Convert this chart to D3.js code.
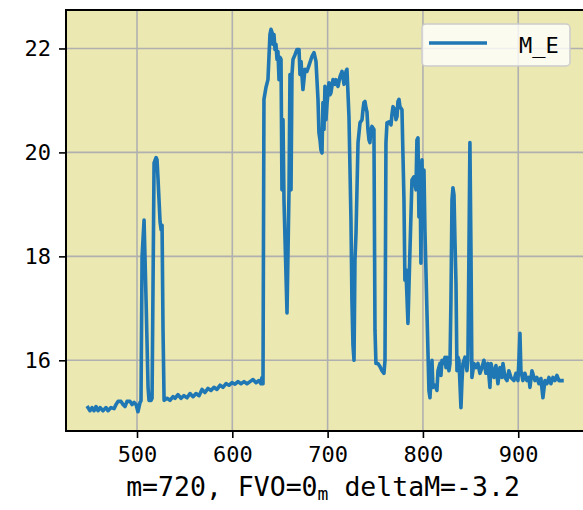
<!DOCTYPE html>
<html>
<head>
<meta charset="utf-8">
<script src="https://cdn.jsdelivr.net/npm/d3@7"></script>
<style>
  html, body { margin: 0; padding: 0; background: #ffffff; }
  svg { display: block; }
  text { font-family: "DejaVu Sans Mono", "Noto Sans CJK SC", monospace; fill: #000; }
</style>
</head>
<body>
<svg id="chart" width="583" height="510"></svg>
<script>
// ---- data ----
const seriesName = "M_E";
const xValues = [
  448.6, 450.7, 452.8, 454.9, 457.0, 459.1, 461.2, 464.3, 467.5, 469.6, 472.7, 475.9, 478.0, 480.1, 483.2, 485.3,
  487.4, 489.5, 492.7, 494.8, 496.9, 499.0, 501.0, 503.2, 504.2,
  505.3, 507.4, 509.5, 511.6, 512.6, 514.7, 515.8, 517.9, 520.0, 521.0, 522.1, 524.2, 525.3, 526.3, 527.3, 528.4,
  531.5, 534.6, 537.8, 539.9, 543.0, 546.2, 549.3, 552.5, 555.6, 558.8, 561.9, 565.1, 568.2, 571.3, 574.5, 577.6,
  580.8, 583.9, 587.1, 590.2, 593.4, 596.5, 599.7, 602.8, 606.0, 609.1, 612.3, 615.4, 618.6, 621.7, 624.9, 628.0,
  630.1, 631.1, 632.2,
  633.2, 635.3, 637.4, 639.5, 640.6, 641.6, 642.7, 643.7, 644.8, 645.8, 646.9, 647.9, 649.0, 650.0, 651.1, 652.1,
  653.2, 654.2, 657.4, 659.5, 660.5, 661.6, 662.6, 663.7, 665.8, 667.9, 670.0, 671.0, 672.1, 674.1, 675.2, 676.2,
  678.3, 680.4, 683.6, 685.7, 687.8, 688.8, 689.9, 690.9, 692.0, 693.0, 694.1, 695.1, 696.2, 697.2, 698.3, 699.3,
  701.4, 702.5, 703.5, 705.6, 707.7, 708.8, 710.9, 713.0, 715.1, 717.2, 719.3, 720.3, 722.4, 724.5, 725.5, 726.6,
  727.7, 728.7, 729.8, 731.9, 734.0, 736.1, 737.1, 738.1, 739.2, 740.2, 741.3, 742.3, 743.4, 744.4, 745.5, 746.5,
  748.6, 749.7, 750.7, 752.8, 754.9, 757.0, 759.1, 760.2, 761.2, 762.3, 764.4, 766.5, 767.5, 768.6, 770.7, 771.7,
  772.8, 773.8, 774.9, 775.9, 778.0, 780.1, 781.1, 782.2, 784.3, 786.4, 788.5, 790.6, 792.7, 793.7, 794.8, 795.8,
  796.9, 797.9, 799.0, 800.0, 801.1, 802.1, 804.2, 806.3, 807.4, 809.5, 810.5, 812.6, 814.7, 815.8, 817.9, 818.9,
  820.0, 822.1, 823.1, 824.2, 825.2, 827.3, 828.4, 829.4, 830.5, 831.5, 832.6, 833.6, 834.7, 835.7, 836.8, 837.8,
  839.9, 841.0, 842.0, 844.1, 846.2, 847.2, 848.3, 849.3, 850.4, 851.4, 853.5, 855.6, 857.7, 859.8, 861.9, 864.0,
  866.1, 868.2, 870.3, 871.4, 874.5, 876.6, 878.7, 880.8, 882.9, 884.0, 886.1, 888.2, 890.2, 892.3, 895.5, 897.6,
  899.7, 900.7, 901.8, 902.8, 904.9, 907.0, 909.1, 911.2, 912.3, 914.4, 917.5, 919.6, 921.7, 923.8, 925.9, 928.0,
  930.1, 932.2, 934.3, 936.4, 938.5, 940.6, 942.7, 945.9
];
const yValues = [
  15.09, 15.03, 15.09, 15.03, 15.11, 15.03, 15.09, 15.03, 15.09, 15.03, 15.09, 15.07, 15.15, 15.21, 15.21, 15.15,
  15.11, 15.21, 15.21, 15.15, 15.19, 15.15, 15.01, 15.19, 15.22,
  17.99, 18.70, 17.16, 15.48, 15.23, 15.23, 15.27, 19.80, 19.90, 19.86, 19.47, 18.66, 18.51, 18.60, 16.58, 15.23,
  15.27, 15.23, 15.30, 15.27, 15.34, 15.27, 15.32, 15.28, 15.36, 15.30, 15.36, 15.32, 15.44, 15.38, 15.46, 15.42,
  15.48, 15.44, 15.52, 15.48, 15.55, 15.52, 15.57, 15.54, 15.59, 15.55, 15.59, 15.55, 15.59, 15.63, 15.57, 15.61,
  15.55, 15.67, 15.55,
  21.02, 21.25, 21.40, 22.27, 22.37, 22.31, 22.08, 22.27, 21.98, 22.08, 21.79, 21.94, 21.40, 21.83, 21.79, 19.28,
  20.63, 19.09, 16.91, 19.28, 21.50, 19.28, 21.50, 21.79, 21.88, 21.98, 21.98, 21.50, 21.75, 21.21, 21.40, 21.60,
  21.56, 21.67, 21.85, 21.92, 21.75, 21.40, 21.02, 20.38, 20.24, 20.05, 19.99, 20.96, 20.44, 21.27, 20.63, 20.92,
  21.34, 21.11, 21.15, 21.40, 21.31, 21.40, 21.27, 21.46, 21.56, 21.31, 21.56, 21.60, 20.69, 18.70, 17.16, 16.29,
  16.00, 17.93, 18.45, 20.19, 20.57, 20.63, 20.82, 20.96, 20.98, 20.86, 20.78, 20.44, 20.24, 20.19, 20.44, 20.50,
  20.44, 16.58, 15.94, 15.94, 15.88, 15.80, 15.75, 16.00, 20.19, 20.57, 20.59, 20.53, 20.73, 20.88, 20.82, 20.63,
  20.69, 20.98, 21.02, 20.88, 20.82, 19.09, 17.54, 17.74, 16.71, 18.12, 19.47, 19.53, 19.28, 20.24, 20.28, 18.76,
  19.80, 17.87, 19.86, 18.83, 19.66, 18.51, 16.96, 15.42, 15.28, 16.00, 15.48, 15.52, 15.42, 15.80, 15.94, 15.71,
  16.00, 15.94, 16.06, 15.86, 16.06, 15.80, 15.94, 17.16, 19.09, 19.32, 19.18, 18.31, 17.48, 15.80, 16.06, 16.00,
  15.09, 15.61, 15.94, 16.06, 15.80, 16.00, 18.12, 20.19, 18.12, 15.67, 15.94, 15.86, 15.94, 15.75, 15.86, 16.00,
  15.75, 15.94, 15.48, 15.94, 15.67, 15.90, 15.55, 15.86, 15.67, 15.94, 15.67, 15.61, 15.80, 15.67, 15.61, 15.75,
  15.61, 16.00, 16.52, 15.80, 15.61, 15.75, 15.61, 15.67, 15.48, 15.80, 15.61, 15.67, 15.55, 15.65, 15.28, 15.61,
  15.55, 15.67, 15.55, 15.67, 15.61, 15.71, 15.61, 15.61
];
const xTicks = [500, 600, 700, 800, 900];
const yTicks = [16, 18, 20, 22];
const xDomain = [425.5, 975.3];
const yDomain = [14.64, 22.74];
const xLabelMain1 = "m=720, FVO=0";
const xLabelSub = "m";
const xLabelMain2 = " deltaM=-3.2";

// ---- layout ----
const svg = d3.select("#chart");
const pLeft = 66, pTop = 10, pRight = 590, pBottom = 431;

const x = d3.scaleLinear().domain(xDomain).range([pLeft, pRight]);
const y = d3.scaleLinear().domain(yDomain).range([pBottom, pTop]);

// plot background
svg.append("rect")
  .attr("x", pLeft).attr("y", pTop)
  .attr("width", pRight - pLeft).attr("height", pBottom - pTop)
  .attr("fill", "#ece8b1");

// grid
const grid = svg.append("g");
grid.selectAll(".gx").data(xTicks).join("line")
  .attr("x1", d => x(d)).attr("x2", d => x(d))
  .attr("y1", pTop).attr("y2", pBottom)
  .attr("stroke", "#b0b0b0").attr("stroke-width", 1.6);
grid.selectAll(".gy").data(yTicks).join("line")
  .attr("x1", pLeft).attr("x2", pRight)
  .attr("y1", d => y(d)).attr("y2", d => y(d))
  .attr("stroke", "#b0b0b0").attr("stroke-width", 1.6);

// data line
const pts = xValues.map((v, i) => [v, yValues[i]]);
const line = d3.line().x(d => x(d[0])).y(d => y(d[1]));
svg.append("path")
  .datum(pts)
  .attr("d", line)
  .attr("fill", "none")
  .attr("stroke", "#1f77b4")
  .attr("stroke-width", 3.6)
  .attr("stroke-linejoin", "round")
  .attr("stroke-linecap", "square");

// axes
const xAxis = d3.axisBottom(x).tickValues(xTicks).tickSize(7).tickPadding(8);
const gx = svg.append("g").attr("transform", `translate(0,${pBottom})`).call(xAxis);
gx.select(".domain").remove();
gx.selectAll("line").attr("stroke", "#000").attr("stroke-width", 1.6);
gx.selectAll("text").attr("font-size", 22).attr("font-family", "DejaVu Sans Mono");

const yAxis = d3.axisLeft(y).tickValues(yTicks).tickSize(7).tickPadding(8);
const gy = svg.append("g").attr("transform", `translate(${pLeft},0)`).call(yAxis);
gy.select(".domain").remove();
gy.selectAll("line").attr("stroke", "#000").attr("stroke-width", 1.6);
gy.selectAll("text").attr("font-size", 22).attr("font-family", "DejaVu Sans Mono");

// spines
svg.append("line").attr("x1", pLeft).attr("x2", pLeft).attr("y1", pTop - 1).attr("y2", pBottom + 1)
  .attr("stroke", "#000").attr("stroke-width", 2);
svg.append("line").attr("x1", pLeft).attr("x2", pRight).attr("y1", pTop).attr("y2", pTop)
  .attr("stroke", "#000").attr("stroke-width", 2);
svg.append("line").attr("x1", pLeft).attr("x2", pRight).attr("y1", pBottom).attr("y2", pBottom)
  .attr("stroke", "#000").attr("stroke-width", 2);

// x label
const xl = svg.append("text")
  .attr("x", 323).attr("y", 496)
  .attr("text-anchor", "middle")
  .attr("font-size", 26.5);
xl.append("tspan").text(xLabelMain1);
xl.append("tspan").attr("font-size", 18).attr("dy", 4).text(xLabelSub);
xl.append("tspan").attr("dy", -4).text(xLabelMain2);

// legend
const lg = svg.append("g");
lg.append("rect")
  .attr("x", 422).attr("y", 24).attr("width", 148).attr("height", 42)
  .attr("rx", 4).attr("ry", 4)
  .attr("fill", "#ffffff").attr("fill-opacity", 0.8)
  .attr("stroke", "#cccccc").attr("stroke-width", 1.5);
lg.append("line")
  .attr("x1", 429).attr("x2", 487).attr("y1", 43).attr("y2", 43)
  .attr("stroke", "#1f77b4").attr("stroke-width", 3.6);
lg.append("text")
  .attr("x", 519).attr("y", 53)
  .attr("font-size", 22)
  .text(seriesName);
</script>
</body>
</html>
